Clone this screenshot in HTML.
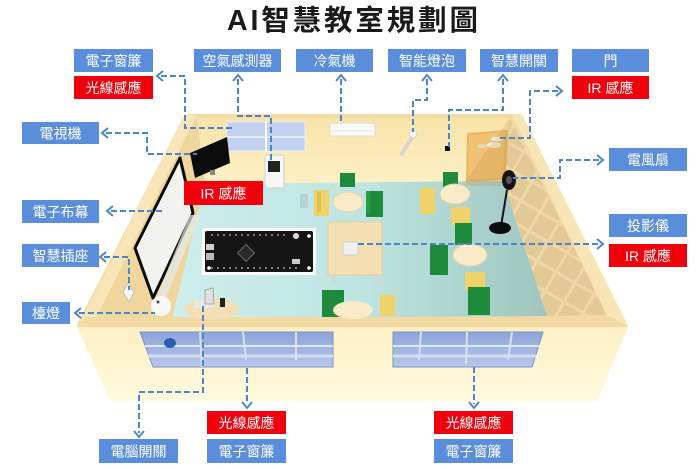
<!DOCTYPE html>
<html><head><meta charset="utf-8">
<style>
html,body{margin:0;padding:0;background:#fff;}
svg{display:block;}
.lb{font-family:"Liberation Sans","Noto Sans CJK TC",sans-serif;font-size:14px;fill:#fff;text-anchor:middle;}
.ln{fill:none;stroke:#4a86c8;stroke-width:2;stroke-dasharray:6 3;}
.ar{fill:none;stroke:#4a86c8;stroke-width:2;}
</style></head>
<body>
<svg width="700" height="469" viewBox="0 0 700 469" xmlns="http://www.w3.org/2000/svg">
<defs>
<linearGradient id="fl" x1="0" y1="0" x2="1" y2="0">
<stop offset="0" stop-color="#cdeeec"/><stop offset="0.5" stop-color="#bfe4e1"/><stop offset="1" stop-color="#9ec6be"/>
</linearGradient>
<linearGradient id="fw" x1="0" y1="0" x2="0" y2="1">
<stop offset="0" stop-color="#fcefc4"/><stop offset="1" stop-color="#fffadf"/>
</linearGradient>
<linearGradient id="bw" x1="0" y1="0" x2="0" y2="1">
<stop offset="0" stop-color="#f9e3aa"/><stop offset="1" stop-color="#fdf0c6"/>
</linearGradient>
<linearGradient id="wn" x1="0" y1="0" x2="0" y2="1">
<stop offset="0" stop-color="#8aa4da"/><stop offset="1" stop-color="#b9c8ea"/>
</linearGradient>
<pattern id="lat" width="22" height="22" patternUnits="userSpaceOnUse" patternTransform="rotate(30)">
<rect width="22" height="22" fill="#e3c995"/>
<rect x="0" y="0" width="22" height="3" fill="#efd8a8"/>
<rect x="0" y="0" width="3" height="22" fill="#efd8a8"/>
</pattern>
</defs>

<!-- Title -->
<text x="227" y="30" textLength="251" lengthAdjust="spacing" style="font-family:'Liberation Sans','Noto Sans CJK TC',sans-serif;font-size:28.5px;font-weight:bold;fill:#1a1a1a;">AI智慧教室規劃圖</text>

<!-- Room -->
<polygon points="185,114 522,114 628,326 597,401 110,401 77,325" fill="#f3d9a2"/>
<!-- back wall -->
<polygon points="197,118 510,118 503,181 205,184" fill="url(#bw)"/>
<!-- left inner wall -->
<polygon points="185,114 197,118 205,184 172,318 88,318 77,325" fill="#f0d59c"/>
<polygon points="185,114 197,115 96,318 80,322" fill="#f8e6b8"/>
<!-- floor -->
<polygon points="205,184 503,181 547,316 172,318" fill="url(#fl)"/>
<!-- lattice wall -->
<polygon points="510,118 607,315 547,316 503,181" fill="url(#lat)"/>
<polygon points="512,114 522,114 628,326 607,316" fill="#f8e5b5"/>
<!-- front wall -->
<polygon points="86,317 612,317 628,327 77,327" fill="#f2d9a4"/>
<polygon points="77,327 628,327 597,401 110,401" fill="url(#fw)"/>

<!-- front windows -->
<polygon points="140,332 333,332 333,367 153,367" fill="url(#wn)" stroke="#7f93c0" stroke-width="1"/>
<line x1="145" y1="346" x2="333" y2="346" stroke="#dfe6f5" stroke-width="2"/>
<line x1="148" y1="356" x2="333" y2="356" stroke="#d3dcf0" stroke-width="3"/>
<line x1="200" y1="332" x2="202" y2="367" stroke="#d8e0f2" stroke-width="2"/>
<line x1="243" y1="332" x2="246" y2="360" stroke="#d8e0f2" stroke-width="2"/>
<line x1="296" y1="332" x2="296" y2="360" stroke="#d8e0f2" stroke-width="2"/>
<ellipse cx="170" cy="343" rx="6" ry="5" fill="#2c5cb2"/>
<polygon points="393,332 543,332 532,367 393,367" fill="url(#wn)" stroke="#7f93c0" stroke-width="1"/>
<line x1="393" y1="346" x2="540" y2="346" stroke="#dfe6f5" stroke-width="2"/>
<line x1="393" y1="356" x2="536" y2="356" stroke="#d3dcf0" stroke-width="3"/>
<line x1="421" y1="332" x2="419" y2="360" stroke="#d8e0f2" stroke-width="2"/>
<line x1="467" y1="332" x2="466" y2="364" stroke="#d8e0f2" stroke-width="2"/>
<line x1="512" y1="332" x2="508" y2="360" stroke="#d8e0f2" stroke-width="2"/>

<!-- back wall items -->
<rect x="227" y="122" width="78" height="29" fill="#c3d1f0" stroke="#e6ecf8" stroke-width="1"/>
<line x1="266" y1="122" x2="266" y2="151" stroke="#fff" stroke-width="2"/>
<line x1="227" y1="137" x2="305" y2="137" stroke="#eef2fa" stroke-width="1.5"/>
<rect x="330" y="123" width="45" height="13" rx="2" fill="#f9f9f7" stroke="#dcdcd6"/>
<line x1="332" y1="131" x2="373" y2="131" stroke="#e2e2dc"/>
<line x1="413" y1="136" x2="401" y2="155" stroke="#d8d4c8" stroke-width="4"/>
<circle cx="413" cy="134" r="4" fill="#f4f4f0" stroke="#ccc" stroke-width="0.8"/>
<rect x="445" y="146" width="5" height="5" fill="#111"/>
<polygon points="467,133 508,130 505,180 466,182" fill="#e9b660"/>
<polygon points="469,135 505,132 503,178 468,180" fill="#f0c172"/>
<ellipse cx="497" cy="139" rx="6" ry="2.5" fill="#f6f0e4"/>
<ellipse cx="494" cy="145" rx="7" ry="3" fill="#f6f0e4"/>
<ellipse cx="482" cy="146" rx="5" ry="2" fill="#e6d6b8"/>
<polygon points="510,118 462,186 505,186" fill="#b98a40" opacity="0.22"/>

<!-- TV -->
<polygon points="190,153 227,137 230,163 195,178" fill="#0c0c0c"/>
<rect x="210" y="170" width="5" height="5" fill="#888"/>
<!-- air sensor -->
<rect x="265" y="155" width="19" height="33" rx="2" fill="#f6f6f3" stroke="#cfcfcf"/>
<rect x="268" y="161" width="12" height="11" fill="#222"/>

<!-- screen -->
<polygon points="180,158 193,213 153,298 135,248" fill="#f2f2ef" stroke="#0b0b0b" stroke-width="3" stroke-linejoin="round"/>
<polygon points="190,215 200,215 165,300 156,298" fill="#e2ebe8" opacity="0.7"/>
<!-- plug, lamp -->
<polygon points="128,283 134,292 129,302 123,292" fill="#f7f7f5" stroke="#bbb" stroke-width="0.8"/>
<circle cx="161" cy="306" r="10" fill="#f7f7f5"/>
<circle cx="158" cy="302" r="1.5" fill="#444"/>

<!-- tables & chairs -->
<g>
<rect x="340" y="173" width="15" height="14" fill="#1e8a3c"/>
<rect x="314" y="190" width="15" height="26" fill="#efd36a"/>
<rect x="317" y="192" width="4" height="20" fill="#e0c050"/>
<ellipse cx="348" cy="202" rx="15" ry="10" fill="#f7ebc9" stroke="#e5d3a5"/>
<rect x="366" y="191" width="17" height="26" fill="#1e8a3c"/>
<rect x="366" y="191" width="4" height="22" fill="#2b9c4a"/>
<rect x="443" y="172" width="15" height="17" fill="#1e8a3c"/>
<rect x="420" y="188" width="15" height="26" fill="#efd36a"/>
<ellipse cx="455" cy="194" rx="15" ry="10" fill="#f7ebc9" stroke="#e5d3a5"/>
<rect x="451" y="207" width="19" height="18" fill="#efd36a"/>
<rect x="455" y="223" width="17" height="22" fill="#1e8a3c"/>
<rect x="430" y="245" width="18" height="30" fill="#1e8a3c"/>
<ellipse cx="470" cy="255" rx="17" ry="11" fill="#f7ebc9" stroke="#e5d3a5"/>
<rect x="465" y="272" width="20" height="18" fill="#efd36a"/>
<rect x="468" y="287" width="22" height="28" fill="#1e8a3c"/>
<rect x="322" y="290" width="22" height="27" fill="#1e8a3c"/>
<ellipse cx="353" cy="310" rx="20" ry="9" fill="#f7ebc9"/>
<rect x="380" y="295" width="15" height="21" fill="#efd36a"/>
<rect x="300" y="194" width="8" height="14" fill="#a8c6cc" opacity="0.6"/>
<rect x="328" y="222" width="54" height="53" fill="#f5e0b3" stroke="#e2cc9c"/>
<rect x="332" y="275" width="4" height="8" fill="#cfd6d6"/>
<rect x="376" y="275" width="4" height="8" fill="#cfd6d6"/>
<rect x="343" y="242" width="15" height="13" rx="2" fill="#f1f1ef" stroke="#cfcfcf"/>
<ellipse cx="212" cy="309" rx="27" ry="11" fill="#f3dfb3"/>
<rect x="195" y="300" width="20" height="8" fill="#e8e8e6"/>
<polygon points="205,290 213,288 214,304 205,304" fill="#e0e0de" stroke="#999" stroke-width="0.8"/>
<rect x="220" y="298" width="5" height="9" fill="#222"/>
<line x1="507" y1="190" x2="501" y2="226" stroke="#111" stroke-width="2"/>
<ellipse cx="500" cy="228" rx="11" ry="6" fill="#0c0c0c"/>
<ellipse cx="509" cy="180" rx="7" ry="10" fill="#151515"/>
<ellipse cx="509" cy="180" rx="3" ry="4" fill="#555"/>
</g>

<!-- board -->
<rect x="202" y="228" width="114" height="47" fill="#fafafa"/>
<rect x="205" y="231" width="108" height="41" rx="2" fill="#151515"/>
<g fill="#9a9a9a">
<circle cx="212" cy="235" r="1"/><circle cx="218" cy="235" r="1"/><circle cx="224" cy="235" r="1"/><circle cx="230" cy="235" r="1"/><circle cx="236" cy="235" r="1"/><circle cx="242" cy="235" r="1"/><circle cx="248" cy="235" r="1"/><circle cx="254" cy="235" r="1"/><circle cx="260" cy="235" r="1"/><circle cx="266" cy="235" r="1"/><circle cx="272" cy="235" r="1"/><circle cx="278" cy="235" r="1"/><circle cx="284" cy="235" r="1"/>
<circle cx="212" cy="268" r="1"/><circle cx="218" cy="268" r="1"/><circle cx="224" cy="268" r="1"/><circle cx="230" cy="268" r="1"/><circle cx="236" cy="268" r="1"/><circle cx="242" cy="268" r="1"/><circle cx="248" cy="268" r="1"/><circle cx="254" cy="268" r="1"/><circle cx="260" cy="268" r="1"/><circle cx="266" cy="268" r="1"/><circle cx="272" cy="268" r="1"/><circle cx="278" cy="268" r="1"/><circle cx="284" cy="268" r="1"/><circle cx="290" cy="268" r="1"/><circle cx="296" cy="268" r="1"/>
</g>
<rect x="206" y="244" width="8" height="6" fill="#cfcfcf"/>
<rect x="206" y="253" width="8" height="7" fill="#bbb"/>
<rect x="240" y="247" width="12" height="12" fill="#2a2a2a" stroke="#666" transform="rotate(45 246 253)"/>
<circle cx="296" cy="236" r="3" fill="#ddd"/>
<rect x="292" y="259" width="8" height="5" fill="#ccc"/>
<circle cx="309" cy="236" r="1.8" fill="#fff"/><circle cx="309" cy="268" r="1.8" fill="#fff"/>
<circle cx="209" cy="268" r="1.8" fill="#fff"/>

<!-- connectors -->
<path class="ln" d="M161,76 H185 V128 H235"/>
<polyline class="ar" points="163,71 157,76 163,81"/>
<path class="ln" d="M238,79 V116 H271 V162"/>
<polyline class="ar" points="233,81 238,75 243,81"/>
<path class="ln" d="M341,79 V123"/>
<polyline class="ar" points="336,81 341,75 346,81"/>
<path class="ln" d="M106,133 H147 V154 H197"/>
<polyline class="ar" points="108,128 102,133 108,138"/>
<path class="ln" d="M427,79 V100 H413 V132"/>
<polyline class="ar" points="422,81 427,75 432,81"/>
<path class="ln" d="M503,79 V110 H449 V147"/>
<polyline class="ar" points="498,81 503,75 508,81"/>
<path class="ln" d="M558,91 H530 V138 H498"/>
<polyline class="ar" points="556,86 562,91 556,96"/>
<path class="ln" d="M599,160 H560 V178 H513"/>
<polyline class="ar" points="597,155 603,160 597,165"/>
<path class="ln" d="M358,244 H599"/>
<polyline class="ar" points="597,239 603,244 597,249"/>
<path class="ln" d="M111,211 H163"/>
<polyline class="ar" points="113,206 107,211 113,216"/>
<path class="ln" d="M104,257 H129 V290"/>
<polyline class="ar" points="106,252 100,257 106,262"/>
<path class="ln" d="M79,313 H155"/>
<polyline class="ar" points="81,308 75,313 81,318"/>
<path class="ln" d="M203,306 V392 H139 V433"/>
<polyline class="ar" points="134,431 139,437 144,431"/>
<path class="ln" d="M247,368 V404"/>
<polyline class="ar" points="242,402 247,408 252,402"/>
<path class="ln" d="M474,367 V404"/>
<polyline class="ar" points="469,402 474,408 479,402"/>

<!-- labels -->
<g>
<rect x="74" y="49" width="79" height="23" fill="#5a8edb"/><text class="lb" x="113.5" y="66">電子窗簾</text>
<rect x="74" y="76" width="79" height="23" fill="#f0000c"/><text class="lb" x="113.5" y="93">光線感應</text>
<rect x="194" y="49" width="87" height="23" fill="#5a8edb"/><text class="lb" x="237.5" y="66">空氣感測器</text>
<rect x="296" y="49" width="77" height="23" fill="#5a8edb"/><text class="lb" x="334.5" y="66">冷氣機</text>
<rect x="388" y="49" width="78" height="23" fill="#5a8edb"/><text class="lb" x="427" y="66">智能燈泡</text>
<rect x="480" y="49" width="78" height="23" fill="#5a8edb"/><text class="lb" x="519" y="66">智慧開關</text>
<rect x="572" y="49" width="77" height="23" fill="#5a8edb"/><text class="lb" x="610.5" y="66">門</text>
<rect x="572" y="76" width="77" height="23" fill="#f0000c"/><text class="lb" x="610.5" y="93">IR 感應</text>
<rect x="22" y="122" width="77" height="22" fill="#5a8edb"/><text class="lb" x="60.5" y="138.5">電視機</text>
<rect x="184" y="181" width="79" height="24" fill="#f0000c"/><text class="lb" x="223.5" y="198.5">IR 感應</text>
<rect x="22" y="200" width="77" height="23" fill="#5a8edb"/><text class="lb" x="60.5" y="217">電子布幕</text>
<rect x="22" y="244" width="77" height="23" fill="#5a8edb"/><text class="lb" x="60.5" y="261">智慧插座</text>
<rect x="22" y="302" width="48" height="22" fill="#5a8edb"/><text class="lb" x="46" y="318.5">檯燈</text>
<rect x="609" y="148" width="78" height="23" fill="#5a8edb"/><text class="lb" x="648" y="165">電風扇</text>
<rect x="609" y="214" width="78" height="23" fill="#5a8edb"/><text class="lb" x="648" y="231">投影儀</text>
<rect x="609" y="244" width="78" height="23" fill="#f0000c"/><text class="lb" x="648" y="261">IR 感應</text>
<rect x="207" y="411" width="79" height="23" fill="#f0000c"/><text class="lb" x="246.5" y="428">光線感應</text>
<rect x="207" y="439" width="79" height="24" fill="#5a8edb"/><text class="lb" x="246.5" y="456.5">電子窗簾</text>
<rect x="99" y="439" width="79" height="24" fill="#5a8edb"/><text class="lb" x="138.5" y="456.5">電腦開關</text>
<rect x="434" y="411" width="79" height="23" fill="#f0000c"/><text class="lb" x="473.5" y="428">光線感應</text>
<rect x="434" y="439" width="79" height="24" fill="#5a8edb"/><text class="lb" x="473.5" y="456.5">電子窗簾</text>
</g>
</svg>
</body></html>
